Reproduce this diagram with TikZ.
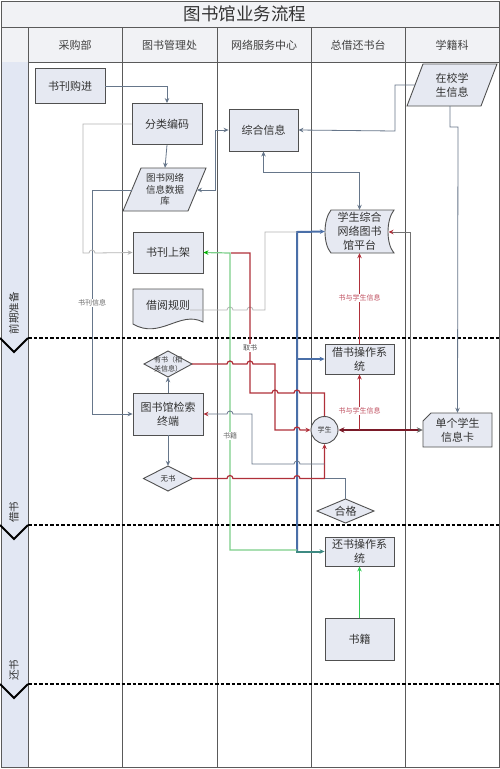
\documentclass[tikz,border=0pt]{standalone}
\usepackage{fontspec}
\setmainfont{Noto Sans CJK SC}
\usetikzlibrary{arrows.meta}
\definecolor{nodefill}{HTML}{E6E9F2}
\definecolor{edgec}{HTML}{505050}
\definecolor{lanec}{HTML}{5A5A5A}
\definecolor{headfill}{HTML}{F1F2F5}
\definecolor{phasefill}{HTML}{E2E7F3}
\definecolor{slatec}{HTML}{66768A}
\definecolor{lightc}{HTML}{B4B4B4}
\definecolor{redc}{HTML}{B0303A}
\definecolor{darkredc}{HTML}{7A1A28}
\definecolor{bluec}{HTML}{4A6FA8}
\definecolor{tealc}{HTML}{3E8A82}
\definecolor{greenc}{HTML}{7CCF8A}
\definecolor{greenb}{HTML}{33CC55}
\definecolor{textc}{HTML}{333333}
\definecolor{lblred}{HTML}{C05060}
\tikzset{
  box/.style={draw=edgec, fill=nodefill, line width=0.9pt, inner sep=0pt, align=center,
    font=\fontsize{11}{14}\selectfont, text=textc},
  ghost/.style={inner sep=0pt, align=center, text=textc, font=\fontsize{11}{14}\selectfont},
  shapeline/.style={draw=edgec, fill=nodefill, line width=0.9pt},
  lane/.style={draw=lanec, line width=0.9pt},
  grayc/.style={draw=slatec, line width=0.8pt},
  lightl/.style={draw=lightc, line width=0.8pt},
  redl/.style={draw=redc, line width=1.2pt},
  tip/.style={-{Stealth[length=5pt,width=4.5pt]}},
  lbl/.style={font=\fontsize{7}{8}\selectfont, inner sep=1pt, fill=white},
  phaselbl/.style={rotate=90, font=\fontsize{10.5}{12}\selectfont, text=textc},
  sepline/.style={draw=black, line width=1.6pt, dash pattern=on 3.5pt off 2pt},
  chev/.style={draw=black, line width=1.8pt},
}
\begin{document}
\begin{tikzpicture}[x=1pt,y=-1pt]
\useasboundingbox (0,0) rectangle (500,769);
% backgrounds
\fill[white] (0,0) rectangle (500,769);
\fill[headfill] (1,1) rectangle (499,62);
\fill[phasefill] (1,62) rectangle (28,767);
% frame and lanes
\draw[lane] (1,1) rectangle (499,767);
\draw[lane] (1,27) -- (499,27);
\draw[lane] (28,62) -- (499,62);
\foreach \xx in {28,122,217,311,405} { \draw[lane] (\xx,27) -- (\xx,767); }
% title and headers
\node[font=\fontsize{17.5}{20}\selectfont, text=textc] (title) at (245,14) {图书馆业务流程};
\node[ghost, text=black!75] (h1) at (75,45) {采购部};
\node[ghost, text=black!75] (h2) at (169.5,45) {图书管理处};
\node[ghost, text=black!75] (h3) at (264,45) {网络服务中心};
\node[ghost, text=black!75] (h4) at (358,45) {总借还书台};
\node[ghost, text=black!75] (h5) at (452,45) {学籍科};
% phase separators
\draw[sepline] (28,338) -- (500,338);
\draw[sepline] (28,525) -- (500,525);
\draw[sepline] (28,684) -- (500,684);
\draw[chev] (0,338) -- (14,352) -- (28,338);
\draw[chev] (0,525) -- (14,539) -- (28,525);
\draw[chev] (0,684) -- (14,698) -- (28,684);
\node[phaselbl] (ph1) at (14,313) {前期准备};
\node[phaselbl] (ph2) at (14,512) {借书};
\node[phaselbl] (ph3) at (14,670) {还书};
% rectangles
\node[box, minimum width=70pt, minimum height=35pt] (buy) at (70,86) {书刊购进};
\node[box, minimum width=70pt, minimum height=41pt] (code) at (167,124) {分类编码};
\node[box, minimum width=69pt, minimum height=42pt] (info) at (263.5,130) {综合信息};
\node[box, minimum width=70pt, minimum height=41pt] (shelf) at (168,252.5) {书刊上架};
\node[box, minimum width=70pt, minimum height=42pt] (term) at (168,414) {图书馆检索\\终端};
\node[box, minimum width=69pt, minimum height=30pt] (borrow) at (359.5,359) {借书操作系\\统};
\node[box, minimum width=69pt, minimum height=29pt] (ret) at (359.5,551.5) {还书操作系\\统};
\node[box, minimum width=69pt, minimum height=42pt] (books) at (359.5,639) {书籍};
% database parallelogram
\draw[shapeline] (123,211) -- (141,168) -- (206,168) -- (188,211) -- cycle;
\node[ghost, font=\fontsize{9.5}{11.5}\selectfont, minimum width=50pt, minimum height=43pt] (db) at (165,189.5) {图书网络\\信息数据\\库};
\coordinate (dbW) at (132,190);
\coordinate (dbE) at (197,190);
% student info parallelogram
\draw[shapeline] (407,106) -- (423,64) -- (497,64) -- (481,106) -- cycle;
\node[ghost, minimum width=60pt, minimum height=42pt] (sinfo) at (452,85) {在校学\\生信息};
\coordinate (sinfoW) at (415,85);
% platform stored-data shape
\draw[shapeline] (331,210) -- (394,210) .. controls (386,220) and (386,244) .. (394,253)
  -- (331,253) .. controls (323,244) and (323,220) .. (331,210) -- cycle;
\node[ghost, minimum width=69pt, minimum height=43pt] (plat) at (359.5,231.5) {学生综合\\网络图书\\馆平台};
\coordinate (platE) at (388.5,232);
% rule document shape
\draw[shapeline] (133,289) -- (203,289) -- (203,322) .. controls (180,310) and (160,340) .. (133,324) -- cycle;
\node[ghost] (rule) at (168,305) {借阅规则};
% card
\draw[shapeline] (431,413) -- (492,413) -- (492,447) -- (423,447) -- (423,421) -- cycle;
\node[ghost, minimum width=69pt, minimum height=34pt] (card) at (457.5,430) {单个学生\\信息卡};
% diamonds
\draw[shapeline] (144,364) -- (168,351) -- (192,364) -- (168,377) -- cycle;
\node[ghost, font=\fontsize{7}{9}\selectfont, minimum width=48pt, minimum height=26pt] (yes) at (168,364) {有书（相\\关信息）};
\draw[shapeline] (143.5,478.5) -- (168,466) -- (192.5,478.5) -- (168,491) -- cycle;
\node[ghost, font=\fontsize{7.5}{9}\selectfont, minimum width=49pt, minimum height=25pt] (no) at (168,478.5) {无书};
\draw[shapeline] (317,511) -- (345.5,499) -- (374,511) -- (345.5,523) -- cycle;
\node[ghost, minimum width=57pt, minimum height=24pt] (ok) at (345.5,511) {合格};
% student circle
\node[box, circle, minimum size=27pt, font=\fontsize{7}{8}\selectfont] (stud) at (324.5,430) {学生};

% ---------- connectors ----------
\draw[grayc, tip] (buy.east) -- (167,86) -- (code.north);
\draw[grayc, tip] (code.south) -- (db.north);
\draw[grayc, {Stealth[length=5pt,width=4.5pt]}-{Stealth[length=5pt,width=4.5pt]}] (dbE) -- (215,190) -- (215,130) -- (info.west);
\draw[grayc, tip] (sinfoW) -- (395,85) -- (395,131) -- (info.east);
\draw[grayc, tip] (450,106) -- (450,127) -- (458,127) -- (card.north);
\draw[grayc, {Stealth[length=5pt,width=4.5pt]}-{Stealth[length=5pt,width=4.5pt]}] (info.south) -- (263.5,172) -- (359.5,172) -- (plat.north);
\draw[grayc, tip] (dbW) -- (92,190) -- (92,414) -- (term.west);
\node[lbl, text=black!60] (lbl1) at (92,303) {书刊信息};
\draw[lightl, tip] (code.west) -- (83,124) -- (83,253) -- (89,253) arc[start angle=180,end angle=360,radius=3] -- (shelf.west);
\draw[grayc, tip] (term.north) -- (yes.south);
\draw[grayc, tip] (term.south) -- (no.north);
% blue bus
\draw[bluec, line width=2pt, tip] (297,551.5) -- (297,232) -- (plat.west);
\draw[bluec, line width=2pt, tip] (297,359) -- (borrow.west);
\draw[tealc, line width=2pt, tip] (296,551.5) -- (ret.west);
% rule to bus
\draw[lightl] (rule.east) ++(0,5) -- (227,310) arc[start angle=180,end angle=360,radius=3] -- (247,310) arc[start angle=180,end angle=360,radius=3] -- (265,310) -- (265,232) -- (297,232);
% green return line
\draw[greenc, line width=1.2pt, -{Stealth[length=5pt,width=4.5pt,color=green!70!black]}] (297,550) -- (230,550) -- (230,253) -- (shelf.east);
\node[lbl, text=black!60] (lbl3) at (230,436) {书籍};
% take-book red line
\draw[redl] (stud.north) -- (324.5,393) -- (300,393) arc[start angle=0,end angle=-180,radius=3] -- (278,393) arc[start angle=0,end angle=-180,radius=3] -- (250,393) -- (250,253) -- (231,253);
\node[lbl, text=black!70] (lbl2) at (250,348) {取书};
% yes line
\draw[redl, tip] (yes.east) -- (227,364) arc[start angle=180,end angle=360,radius=3] -- (247,364) arc[start angle=180,end angle=360,radius=3] -- (275,364) -- (275,430) -- (294,430) arc[start angle=180,end angle=360,radius=3] -- (stud.west);
% no line
\draw[redl, tip] (no.east) -- (227,478.5) arc[start angle=180,end angle=360,radius=3] -- (294,478.5) arc[start angle=180,end angle=360,radius=3] -- (324.5,478.5) -- (stud.south);
% ok line
\draw[grayc] (ok.north) -- (345.5,478.5) -- (324.5,478.5);
% student to terminal
\draw[grayc, -{Stealth[length=5pt,width=4.5pt,color=redc]}] (324.5,464) -- (300,464) arc[start angle=0,end angle=-180,radius=3] -- (252,464) -- (252,414) -- (233,414) arc[start angle=0,end angle=-180,radius=3] -- (term.east);
% card to platform
\draw[draw=black!55, line width=1pt, -{Stealth[length=5pt,width=4.5pt,color=redc]}] (410,430) -- (410,232) -- (platE);
% card <-> student
\draw[darkredc, line width=2pt, {Stealth[length=6pt,width=5.5pt]}-{Stealth[length=6pt,width=5.5pt,color=black!60]}] (stud.east) -- (card.west);
% to borrow system and platform
\draw[redl, tip] (359.5,430) -- (borrow.south);
\node[lbl, text=lblred] (lbl4) at (359.5,411) {书与学生信息};
\draw[redl, tip] (borrow.north) -- (plat.south);
\node[lbl, text=lblred] (lbl5) at (359.5,298) {书与学生信息};
% books to return
\draw[greenb, line width=0.9pt, tip] (books.north) -- (ret.south);
\end{tikzpicture}
\end{document}
